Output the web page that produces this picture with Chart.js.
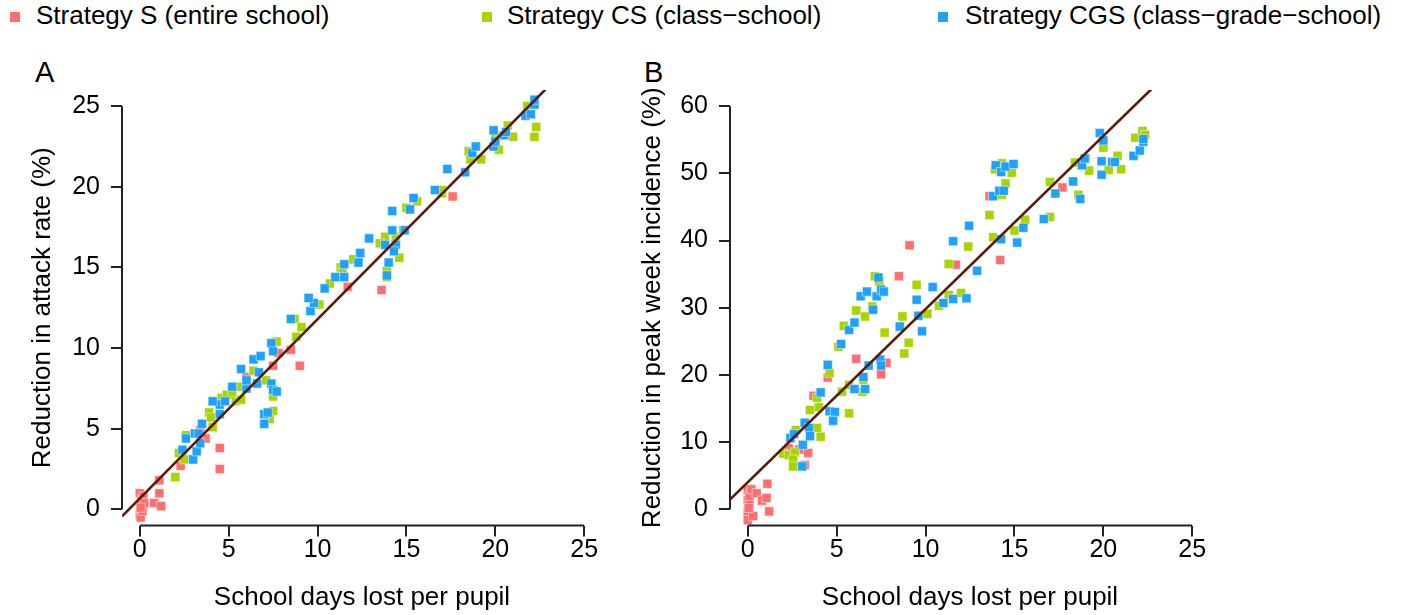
<!DOCTYPE html>
<html>
<head>
<meta charset="utf-8">
<title>School closure strategies</title>
<script src="https://cdn.jsdelivr.net/npm/chart.js@4.4.1/dist/chart.umd.min.js"></script>
<style>
  body { margin: 0; background: #fff; font-family: "Liberation Sans", Arial, sans-serif; }
  #page { position: relative; width: 1411px; height: 615px; overflow: hidden; }
  canvas { position: absolute; top: 0; }
  .key { position: absolute; top: 2px; font-size: 26px; line-height: 26px; color: #000; white-space: nowrap; }
  .key i { position: absolute; top: 10px; width: 10px; height: 10px; }
  .panel { position: absolute; top: 58px; font-size: 29px; line-height: 29px; color: #000; }
</style>
</head>
<body>
<div id="page">
  <div class="key" style="left:36px"><i style="left:-26px;background:#ff6f6f"></i>Strategy S (entire school)</div>
  <div class="key" style="left:507px"><i style="left:-25px;background:#a8d500"></i>Strategy CS (class&minus;school)</div>
  <div class="key" style="left:965px"><i style="left:-27px;background:#1fa2ff"></i>Strategy CGS (class&minus;grade&minus;school)</div>
  <div class="panel" style="left:35px">A</div>
  <div class="panel" style="left:644px">B</div>
  <canvas id="chartA" width="610" height="615" style="left:0"></canvas>
  <canvas id="chartB" width="801" height="615" style="left:610px"></canvas>
</div>
<script>
// Axis ticks
const xTicks = [0, 5, 10, 15, 20, 25];
const attackTicks = [0, 5, 10, 15, 20, 25];
const peakTicks = [0, 10, 20, 30, 40, 50, 60];

// Panel A: reduction in attack rate (%) vs school days lost
const attackS = [
  [0, 1.0], [0.1, 0.6], [0.2, 0.2], [0, -0.3], [0.1, 0.3], [0.05, -0.5], [0.2, 0.8], [0.15, -0.1],
  [0.25, 0.4], [0.05, 0.1], [0.8, 0.4], [1.1, 1.0], [1.2, 0.2], [1.1, 1.8], [2.3, 2.7], [3.4, 4.9],
  [3.7, 4.4], [4.5, 3.8], [4.5, 2.5], [6.0, 8.2], [7.5, 8.9], [7.8, 9.7], [8.5, 9.9], [9.0, 8.9],
  [11.7, 13.8], [13.6, 13.6], [17.6, 19.4]
];
const attackCS = [
  [2.0, 2.0], [2.2, 3.5], [2.5, 3.1], [2.6, 4.6], [3.9, 6.0], [4.0, 5.7], [4.1, 5.1], [4.6, 6.9],
  [4.9, 7.1], [5.2, 7.1], [5.4, 6.7], [5.7, 6.8], [5.7, 7.6], [6.4, 8.6], [7.1, 8.0], [7.5, 7.0],
  [7.5, 6.1], [7.3, 5.6], [7.7, 10.4], [8.7, 11.8], [9.1, 11.3], [8.8, 10.7], [10.1, 12.7], [9.5, 13.1],
  [10.7, 14.0], [11.3, 15.0], [11.4, 14.7], [12.0, 15.5], [12.4, 15.9], [13.9, 14.4], [13.9, 14.8],
  [14.6, 15.6], [14.4, 16.9], [13.8, 16.9], [13.5, 16.5], [14.8, 17.3], [15.0, 18.7], [15.6, 19.1],
  [17.0, 19.6], [17.0, 19.8], [18.5, 22.2], [18.6, 21.7], [19.2, 21.7], [20.0, 23.2], [20.2, 22.3],
  [20.7, 23.8], [21.0, 23.1], [21.8, 25.0], [22.3, 23.7], [22.2, 23.1]
];
const attackCGS = [
  [2.4, 3.7], [2.6, 4.4], [3.0, 3.1], [3.2, 3.6], [3.1, 4.7], [3.3, 4.7], [3.4, 4.1], [3.5, 5.3],
  [4.5, 5.9], [4.5, 6.5], [4.8, 6.7], [4.1, 6.7], [5.2, 7.6], [6.0, 7.5], [6.0, 8.0], [6.6, 7.8],
  [6.7, 8.5], [5.7, 8.7], [6.4, 9.3], [6.8, 9.5], [7.4, 7.8], [7.5, 7.4], [7.7, 7.3], [7.0, 5.9],
  [7.2, 6.0], [7.0, 5.3], [7.4, 10.3], [7.5, 9.8], [8.5, 11.8], [9.6, 12.3], [9.8, 12.8], [9.5, 13.1],
  [10.4, 13.7], [11.0, 14.4], [11.5, 14.4], [11.5, 15.2], [12.3, 15.3], [12.4, 15.9], [12.9, 16.8],
  [13.8, 16.4], [14.2, 18.5], [14.2, 17.3], [14.4, 16.4], [14.3, 16.0], [14.0, 15.3], [13.9, 14.5],
  [15.2, 18.6], [14.9, 17.3], [15.4, 19.3], [16.6, 19.8], [17.3, 21.1], [18.3, 20.9], [18.7, 22.1],
  [18.9, 22.5], [19.9, 23.5], [19.9, 22.5], [20.0, 22.8], [20.5, 23.2], [20.6, 23.4], [21.7, 24.4],
  [22.0, 24.5], [22.2, 25.1], [22.2, 25.4]
];
const attackFit = [0.68, 1.111]; // intercept, slope

// Panel B: reduction in peak week incidence (%) vs school days lost
const peakS = [
  [0, 2.9], [0.2, 2.4], [0, 1.4], [0.1, 0.7], [0, -0.3], [0, -1.6], [0.3, -1.0], [0.1, 2.0],
  [0.2, 3.0], [0.05, 0.2], [0.5, 2.4], [0.8, 1.3], [1.05, 1.7], [1.1, 3.8], [1.2, -0.3], [2.3, 9.1],
  [2.9, 8.9], [3.2, 6.6], [3.4, 8.4], [3.7, 16.9], [4.5, 19.6], [6.1, 22.4], [7.5, 20.1], [7.8, 21.8],
  [8.5, 34.7], [9.1, 39.3], [11.7, 36.4], [13.6, 46.6], [14.2, 37.1], [17.7, 47.9]
];
const peakCS = [
  [2.0, 8.3], [2.3, 8.1], [2.65, 8.5], [2.55, 7.4], [2.55, 6.4], [2.7, 11.8], [3.5, 14.8], [3.9, 12.1],
  [3.9, 16.6], [4.0, 15.2], [4.1, 10.8], [4.6, 20.3], [5.1, 24.2], [5.3, 17.5], [5.4, 27.3], [5.7, 14.3],
  [5.7, 18.5], [6.1, 29.6], [6.45, 17.5], [6.5, 19.3], [6.6, 28.7], [7.0, 30.2], [7.15, 34.7], [7.4, 33.9],
  [7.7, 26.3], [8.7, 28.7], [8.8, 23.2], [9.05, 24.8], [9.5, 33.4], [10.1, 29.1], [10.75, 30.3],
  [11.3, 36.5], [11.3, 31.9], [12.0, 32.2], [12.4, 39.1], [13.6, 43.8], [13.8, 40.5], [13.9, 50.6],
  [14.3, 51.5], [14.3, 46.8], [14.5, 48.5], [14.85, 50.1], [15.0, 41.5], [15.6, 43.1], [17.0, 48.7],
  [17.0, 43.5], [18.4, 51.6], [18.6, 46.8], [19.0, 52.2], [19.2, 50.4], [20.0, 54.7], [20.0, 53.8],
  [20.3, 50.5], [20.8, 52.6], [21.0, 50.6], [21.8, 55.3], [22.2, 56.3], [22.35, 55.7]
];
const peakCGS = [
  [2.4, 10.6], [2.6, 11.2], [3.1, 9.6], [3.06, 6.4], [3.2, 12.9], [3.45, 12.1], [3.5, 10.9], [4.1, 17.4],
  [4.5, 21.5], [4.6, 14.6], [4.9, 14.5], [4.8, 13.2], [5.25, 24.6], [5.7, 26.7], [6.0, 27.8], [6.0, 17.9],
  [6.35, 31.7], [6.5, 19.7], [6.6, 17.9], [6.7, 32.4], [6.8, 21.4], [7.05, 29.7], [7.25, 31.7], [7.35, 34.5],
  [7.45, 22.3], [7.5, 21.4], [7.5, 32.7], [7.65, 32.4], [8.55, 27.2], [9.5, 31.2], [9.6, 28.8], [9.8, 26.5],
  [10.4, 33.1], [11.0, 30.7], [11.55, 39.9], [11.55, 31.3], [12.3, 31.4], [12.45, 42.2], [12.9, 35.5],
  [13.8, 46.6], [13.95, 51.2], [14.15, 47.4], [14.25, 40.2], [14.25, 50.2], [14.4, 47.4], [14.5, 51.0],
  [14.95, 51.4], [15.15, 39.7], [15.5, 41.9], [16.65, 43.2], [17.3, 47.0], [18.3, 48.8], [18.7, 46.2],
  [18.8, 51.2], [18.95, 52.2], [19.8, 56.0], [19.9, 51.8], [19.9, 49.8], [20.0, 54.9], [20.5, 51.7],
  [20.65, 51.7], [21.7, 52.6], [22.05, 53.4], [22.25, 54.7], [22.25, 55.1]
];
const peakFit = [4.04, 2.576];

const colors = { S: '#ff6f6f', CS: '#a8d500', CGS: '#1fa2ff', fit: '#5a1a0c' };
const axisColor = '#222';
const fontFamily = '"Liberation Sans", Arial, sans-serif';

const toPoints = arr => arr.map(p => ({ x: p[0], y: p[1] }));

// R-style axis line that only spans the first..last tick
const rAxisLines = {
  id: 'rAxisLines',
  afterDraw(chart) {
    const { ctx, chartArea, scales: { x, y } } = chart;
    const xt = x.ticks, yt = y.ticks;
    ctx.save();
    ctx.strokeStyle = axisColor;
    ctx.lineWidth = 2;
    ctx.beginPath();
    ctx.moveTo(x.getPixelForValue(xt[0].value), chartArea.bottom);
    ctx.lineTo(x.getPixelForValue(xt[xt.length - 1].value), chartArea.bottom);
    ctx.moveTo(chartArea.left, y.getPixelForValue(yt[0].value));
    ctx.lineTo(chartArea.left, y.getPixelForValue(yt[yt.length - 1].value));
    ctx.stroke();
    ctx.restore();
  }
};

function scatterSet(data, color, order) {
  return {
    type: 'scatter',
    data: toPoints(data),
    backgroundColor: color,
    borderColor: 'rgba(255,255,255,0.45)',
    borderWidth: 1,
    pointStyle: 'rect',
    pointRadius: 6.4,
    order: order
  };
}

function makePanel(id, opts) {
  const xMin = -1, xMax = 26;
  const fitData = [xMin, xMax].map(v => ({ x: v, y: opts.fit[0] + opts.fit[1] * v }));
  const tickFont = { family: fontFamily, size: 25 };
  const titleFont = { family: fontFamily, size: 26 };

  return new Chart(document.getElementById(id), {
    type: 'scatter',
    data: {
      datasets: [
        { type: 'line', data: fitData, borderColor: colors.fit, borderWidth: 2.6, pointRadius: 0, fill: false, order: 0 },
        scatterSet(opts.cgs, colors.CGS, 1),
        scatterSet(opts.cs, colors.CS, 2),
        scatterSet(opts.s, colors.S, 3)
      ]
    },
    options: {
      responsive: false,
      animation: false,
      devicePixelRatio: 1,
      layout: { padding: { left: 0, top: 90, right: opts.padRight, bottom: 0 } },
      plugins: { legend: { display: false }, tooltip: { enabled: false } },
      scales: {
        x: {
          type: 'linear',
          min: xMin,
          max: xMax,
          afterBuildTicks: s => { s.ticks = xTicks.map(v => ({ value: v })); },
          afterFit: s => { s.height = 89.5; },
          grid: { display: true, drawOnChartArea: false, drawTicks: true, tickLength: 11, color: axisColor, lineWidth: 2 },
          border: { display: false },
          ticks: { color: '#000', font: tickFont, padding: -1, maxRotation: 0, autoSkip: false },
          title: { display: true, text: 'School days lost per pupil', color: '#000', font: titleFont, padding: { top: 0, bottom: 2 } }
        },
        y: {
          type: 'linear',
          min: opts.yMin,
          max: opts.yMax,
          afterBuildTicks: s => { s.ticks = opts.yTicks.map(v => ({ value: v })); },
          afterFit: s => { s.width = opts.yWidth; },
          grid: { display: true, drawOnChartArea: false, drawTicks: true, tickLength: 11, color: axisColor, lineWidth: 2 },
          border: { display: false },
          ticks: { color: '#000', font: tickFont, padding: 11, autoSkip: false },
          title: { display: true, text: opts.yTitle, color: '#000', font: titleFont, padding: { top: 27, bottom: 0 } }
        }
      }
    },
    plugins: [rAxisLines]
  });
}

document.addEventListener('DOMContentLoaded', function() {
  // 1. Panel A
  makePanel('chartA', {
    s: attackS, cs: attackCS, cgs: attackCGS, fit: attackFit,
    yMin: -1, yMax: 26, yTicks: attackTicks, yWidth: 122, padRight: 8,
    yTitle: 'Reduction in attack rate (%)'
  });
  // 2. Panel B
  makePanel('chartB', {
    s: peakS, cs: peakCS, cgs: peakCGS, fit: peakFit,
    yMin: -2.4, yMax: 62.4, yTicks: peakTicks, yWidth: 120, padRight: 201,
    yTitle: 'Reduction in peak week incidence (%)'
  });
});
</script>
</body>
</html>
